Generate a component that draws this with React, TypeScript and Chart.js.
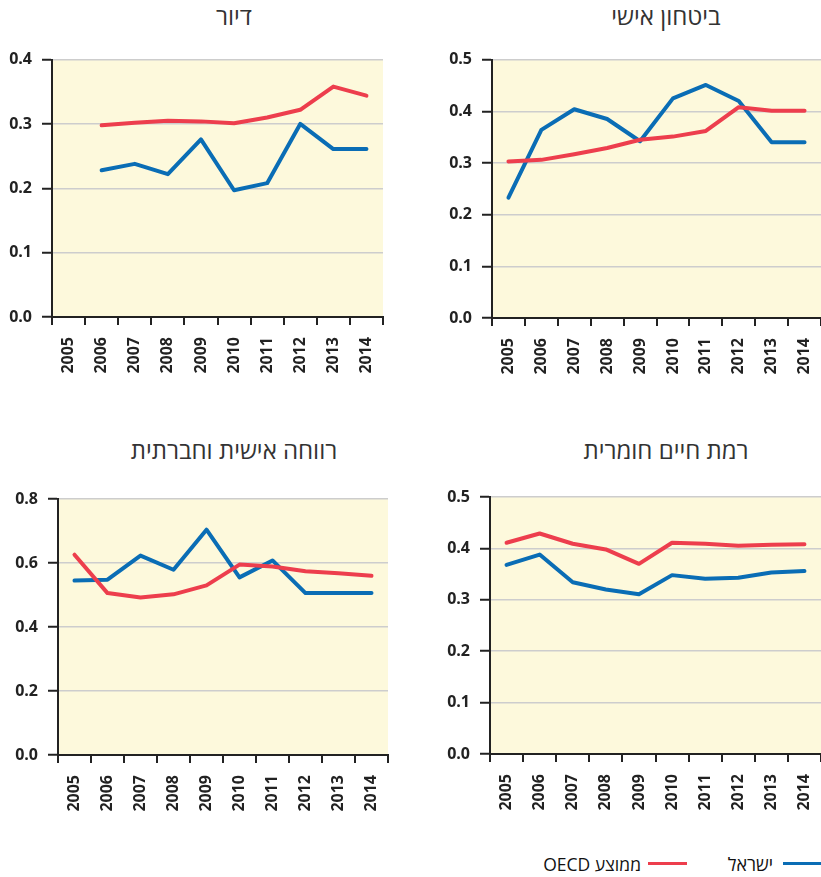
import React, { useEffect, useRef } from "react";
import { Chart, registerables } from "chart.js";

Chart.register(...registerables);

const years = ["2005", "2006", "2007", "2008", "2009", "2010", "2011", "2012", "2013", "2014"];

const housingIsrael = [null, 0.228, 0.238, 0.222, 0.276, 0.197, 0.208, 0.3, 0.261, 0.261];
const housingOecd = [null, 0.298, 0.302, 0.305, 0.304, 0.301, 0.31, 0.322, 0.358, 0.344];

const safetyIsrael = [0.233, 0.364, 0.404, 0.385, 0.342, 0.425, 0.451, 0.42, 0.34, 0.34];
const safetyOecd = [0.303, 0.306, 0.317, 0.329, 0.345, 0.351, 0.362, 0.408, 0.401, 0.401];

const welfareIsrael = [0.545, 0.548, 0.623, 0.579, 0.704, 0.555, 0.608, 0.506, 0.506, 0.506];
const welfareOecd = [0.626, 0.506, 0.492, 0.502, 0.53, 0.595, 0.589, 0.574, 0.568, 0.56];

const materialIsrael = [0.368, 0.388, 0.334, 0.32, 0.311, 0.348, 0.341, 0.343, 0.353, 0.356];
const materialOecd = [0.411, 0.429, 0.409, 0.398, 0.37, 0.411, 0.409, 0.405, 0.407, 0.408];

const titles = ["דיור", "ביטחון אישי", "רווחה אישית וחברתית", "רמת חיים חומרית"];
const legendIsrael = "ישראל";
const legendOecd = "ממוצע OECD";

const BLUE = "#0a6db5";
const RED = "#ed3e4d";
const FONT = "'Open Sans', 'Noto Sans', 'DejaVu Sans', sans-serif";

const bgPlugin = {
  id: "plotBg",
  beforeDraw(chart: any) {
    const { ctx, chartArea } = chart;
    if (!chartArea) return;
    ctx.save();
    ctx.fillStyle = "#fdf9dc";
    ctx.fillRect(chartArea.left, chartArea.top, chartArea.right - chartArea.left, chartArea.bottom - chartArea.top);
    ctx.restore();
  },
};

type Panel = {
  left: number;
  top: number;
  width: number;
  height: number;
  yWidth: number;
  xHeight: number;
  padTop: number;
  padRight: number;
  max: number;
  step: number;
  israel: (number | null)[];
  oecd: (number | null)[];
};

function LinePanel({ p }: { p: Panel }) {
  const ref = useRef<HTMLCanvasElement | null>(null);
  useEffect(() => {
    if (!ref.current) return;
    const tickFont = { family: FONT, size: 16, weight: "bold" as const };
    const chart = new Chart(ref.current, {
      type: "line",
      data: {
        labels: years,
        datasets: [
          {
            label: legendOecd,
            data: p.oecd,
            borderColor: RED,
            backgroundColor: RED,
            borderWidth: 4,
            pointRadius: 0,
            tension: 0,
            spanGaps: false,
            borderJoinStyle: "round",
            borderCapStyle: "round",
          },
          {
            label: legendIsrael,
            data: p.israel,
            borderColor: BLUE,
            backgroundColor: BLUE,
            borderWidth: 4,
            pointRadius: 0,
            tension: 0,
            spanGaps: false,
            borderJoinStyle: "round",
            borderCapStyle: "round",
          },
        ],
      },
      options: {
        responsive: false,
        animation: false,
        events: [],
        layout: { padding: { top: p.padTop, right: p.padRight, left: 0, bottom: 0 } },
        plugins: {
          legend: { display: false },
          tooltip: { enabled: false },
          title: { display: false },
        },
        scales: {
          x: {
            offset: true,
            grid: {
              offset: true,
              drawOnChartArea: false,
              drawTicks: true,
              tickLength: 8,
              tickColor: "#222",
              tickWidth: 2,
              lineWidth: 2,
              color: "#222",
            },
            border: { display: true, color: "#222", width: 2 },
            ticks: {
              minRotation: 90,
              maxRotation: 90,
              autoSkip: false,
              padding: 12,
              color: "#222",
              font: tickFont,
            },
            afterFit: (s: any) => {
              s.height = p.xHeight;
              s.paddingLeft = 0;
              s.paddingRight = 0;
            },
          },
          y: {
            min: 0,
            max: p.max,
            ticks: {
              stepSize: p.step,
              padding: 10,
              color: "#222",
              font: tickFont,
              callback: (v: any) => Number(v).toFixed(1),
            },
            grid: {
              color: "#cdcdcd",
              lineWidth: 1.5,
              drawTicks: true,
              tickLength: 10,
              tickColor: "#222",
              tickWidth: 2,
            },
            border: { display: true, color: "#222", width: 2 },
            afterFit: (s: any) => {
              s.width = p.yWidth;
            },
          },
        },
      },
      plugins: [bgPlugin],
    });
    return () => chart.destroy();
  }, [p]);
  return (
    <canvas
      ref={ref}
      width={p.width}
      height={p.height}
      style={{ position: "absolute", left: p.left, top: p.top, width: p.width, height: p.height }}
    />
  );
}

const panels: Panel[] = [
  { left: 0, top: 40, width: 410, height: 360, yWidth: 52, xHeight: 83, padTop: 19, padRight: 27, max: 0.4, step: 0.1, israel: housingIsrael, oecd: housingOecd },
  { left: 410, top: 40, width: 411, height: 360, yWidth: 82, xHeight: 82, padTop: 18, padRight: 0, max: 0.5, step: 0.1, israel: safetyIsrael, oecd: safetyOecd },
  { left: 0, top: 470, width: 410, height: 360, yWidth: 58, xHeight: 75, padTop: 29, padRight: 22, max: 0.8, step: 0.2, israel: welfareIsrael, oecd: welfareOecd },
  { left: 410, top: 470, width: 411, height: 360, yWidth: 80, xHeight: 76, padTop: 27, padRight: 0, max: 0.5, step: 0.1, israel: materialIsrael, oecd: materialOecd },
];

const titlePos = [
  { x: 234, y: 15.5 },
  { x: 666, y: 15.5 },
  { x: 234, y: 449.5 },
  { x: 666, y: 449.5 },
];

export default function App() {
  return (
    <div
      style={{
        position: "absolute",
        left: 0,
        top: 0,
        width: 821,
        height: 877,
        overflow: "hidden",
        background: "#fff",
        fontFamily: FONT,
      }}
    >
      {titles.map((t, i) => (
        <div
          key={i}
          dir="rtl"
          style={{
            position: "absolute",
            left: titlePos[i].x,
            top: titlePos[i].y,
            transform: "translate(-50%, -50%)",
            fontSize: 24,
            fontWeight: 500,
            lineHeight: "28px",
            color: "#333",
            whiteSpace: "nowrap",
          }}
        >
          {t}
        </div>
      ))}
      {panels.map((p, i) => (
        <LinePanel key={i} p={p} />
      ))}
      <div style={{ position: "absolute", left: 783, top: 862, width: 38, height: 3, background: BLUE }} />
      <div
        dir="rtl"
        style={{
          position: "absolute",
          right: 821 - 773,
          top: 864,
          transform: "translateY(-50%)",
          fontSize: 18,
          lineHeight: "22px",
          color: "#111",
          whiteSpace: "nowrap",
        }}
      >
        {legendIsrael}
      </div>
      <div style={{ position: "absolute", left: 648, top: 862, width: 39, height: 3, background: RED }} />
      <div
        dir="rtl"
        style={{
          position: "absolute",
          right: 821 - 641,
          top: 864,
          transform: "translateY(-50%)",
          fontSize: 17.5,
          lineHeight: "22px",
          color: "#111",
          whiteSpace: "nowrap",
        }}
      >
        {legendOecd}
      </div>
    </div>
  );
}
